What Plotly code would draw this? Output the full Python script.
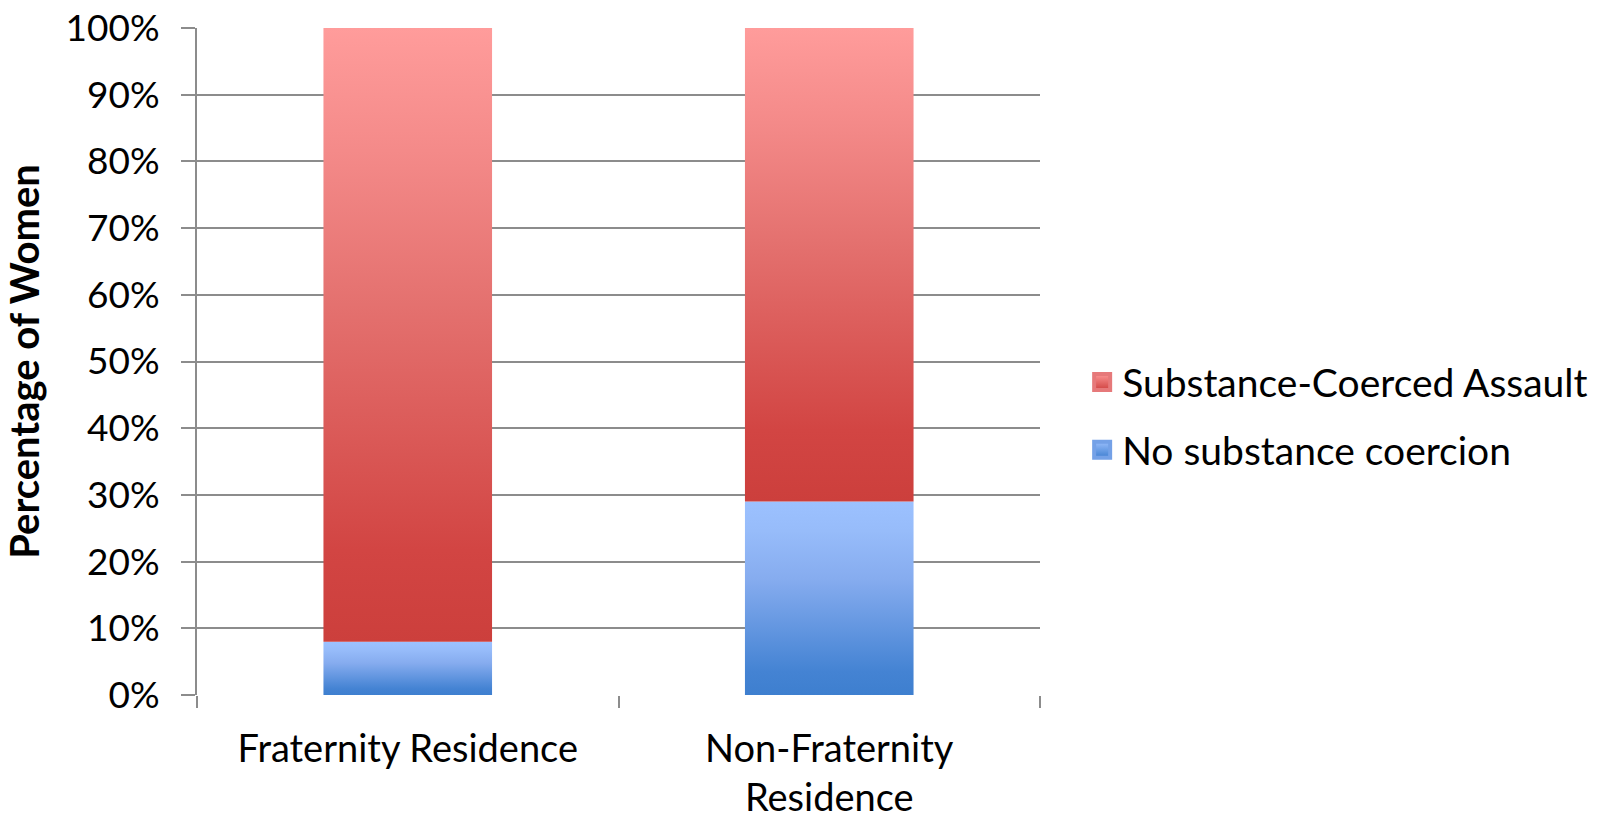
import plotly.graph_objects as go

# ---- data ----
categories = ["Fraternity Residence", "Non-Fraternity<br>Residence"]
no_coercion = [8, 29]          # % of women, bottom segment
substance_coerced = [92, 71]   # % of women, top segment
series_names = ["Substance-Coerced Assault", "No substance coercion"]
y_ticks = [0, 10, 20, 30, 40, 50, 60, 70, 80, 90, 100]
y_tick_labels = [f"{v}%" for v in y_ticks]

# ---- style ----
FONT = "Lato"
BAR_W = 0.40
GRID = "#8c8c8c"
red_scale = [[0, "#cc3f3c"], [0.15, "#d24543"], [0.55, "#e4716f"], [0.8, "#f48a89"], [1, "#ff9c9b"]]
blue_scale = [[0, "#3e7fcf"], [0.12, "#4483d3"], [0.6, "#86acef"], [0.85, "#97bcfa"], [1, "#9cc1ff"]]

fig = go.Figure()

positions = [i + 0.5 for i in range(len(categories))]

def segment(center, base, top, scale):
    xs = [center - BAR_W / 2, center + BAR_W / 2, center + BAR_W / 2, center - BAR_W / 2, center - BAR_W / 2]
    ys = [base, base, top, top, base]
    return go.Scatter(
        x=xs, y=ys, mode="lines", fill="toself",
        line=dict(width=0),
        fillgradient=dict(type="vertical", colorscale=scale, start=base, stop=top),
        showlegend=False, hoverinfo="skip",
    )

for c, nb, sc in zip(positions, no_coercion, substance_coerced):
    fig.add_trace(segment(c, 0, nb, blue_scale))
    fig.add_trace(segment(c, nb, nb + sc, red_scale))

# legend entries
fig.add_trace(go.Scatter(
    x=[None], y=[None], mode="markers", name=series_names[0], legendgroup="a",
    marker=dict(symbol="square", size=16, color="#fc9594",
                gradient=dict(type="vertical", color="#cf4240"),
                line=dict(width=4, color="#e6797a")),
))
fig.add_trace(go.Scatter(
    x=[None], y=[None], mode="markers", name=series_names[1], legendgroup="b",
    marker=dict(symbol="square", size=16, color="#98bdfb",
                gradient=dict(type="vertical", color="#4080d1"),
                line=dict(width=4, color="#74a1e7")),
))

fig.update_layout(
    width=1604, height=819,
    margin=dict(l=197, r=564, t=28, b=124, autoexpand=False),
    paper_bgcolor="white", plot_bgcolor="white",
    font=dict(family=FONT, size=38, color="black"),
    legend=dict(
        x=1.05, xanchor="left", y=0.418, yanchor="middle",
        traceorder="grouped", tracegroupgap=14,
        font=dict(family=FONT, size=39, color="black"),
        bgcolor="rgba(0,0,0,0)", itemsizing="trace",
    ),
    xaxis=dict(
        range=[0, len(categories)], showgrid=False, zeroline=False,
        tickmode="array", tickvals=positions, ticktext=categories,
        ticks="", showline=False, automargin=False,
        ticklabelstandoff=28, ticklabeloverflow="allow",
        minor=dict(tickmode="linear", tick0=0, dtick=1, ticks="outside",
                   ticklen=12, tickwidth=2, tickcolor=GRID, showgrid=False),
        tickfont=dict(family=FONT, size=38, color="black"),
        fixedrange=True,
    ),
    yaxis=dict(
        range=[0, 100], tickmode="array", tickvals=y_ticks, ticktext=y_tick_labels,
        showgrid=True, gridcolor=GRID, gridwidth=2, automargin=False,
        zeroline=False, showline=True, linecolor=GRID, linewidth=2,
        ticks="outside", ticklen=14, tickwidth=2, tickcolor=GRID,
        ticklabelstandoff=14, ticklabeloverflow="allow",
        tickfont=dict(family=FONT, size=37, color="black"),
        title=dict(text="<b>Percentage of Women</b>", standoff=15,
                   font=dict(family=FONT, size=40, color="black")),
        fixedrange=True,
    ),
)

fig.write_html("out.html", config={"displayModeBar": False},
               post_script="document.body.style.margin='0';")
